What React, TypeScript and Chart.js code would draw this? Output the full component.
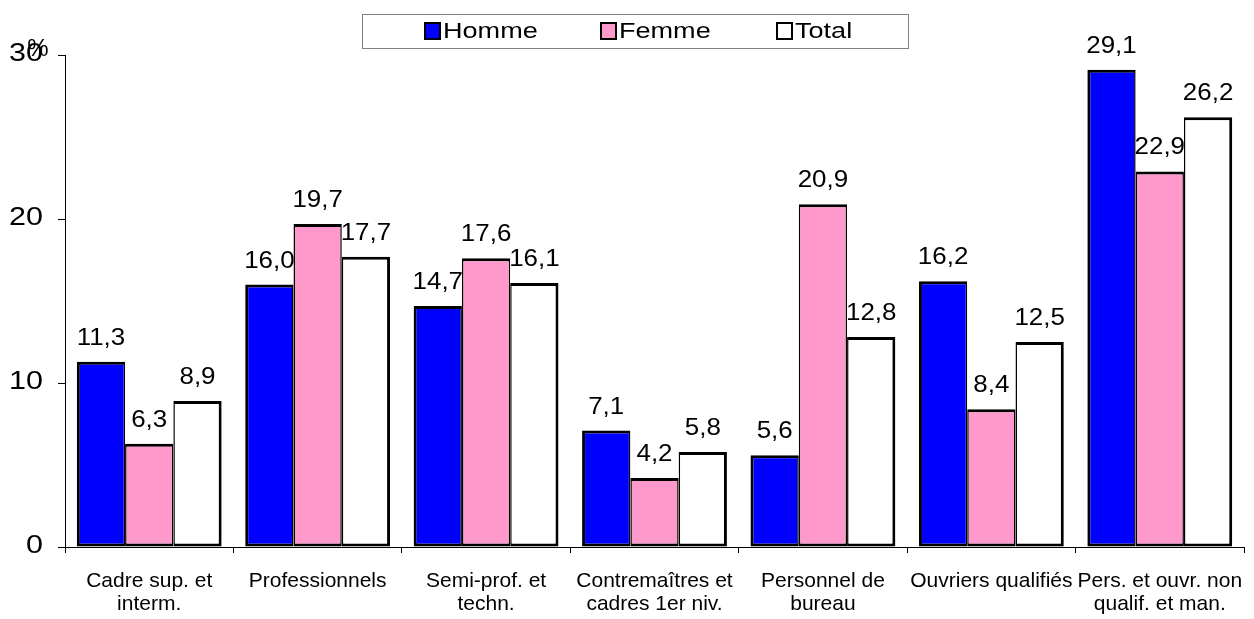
import React, { useEffect, useRef } from "react";
import { Chart, registerables } from "chart.js";

Chart.register(...registerables);

const categories: (string | string[])[] = [
  ["Cadre sup. et", "interm."],
  "Professionnels",
  ["Semi-prof. et", "techn."],
  ["Contremaîtres et", "cadres 1er niv."],
  ["Personnel de", "bureau"],
  "Ouvriers qualifiés",
  ["Pers. et ouvr. non", "qualif. et man."],
];

const homme = [11.3, 16.0, 14.7, 7.1, 5.6, 16.2, 29.1];
const femme = [6.3, 19.7, 17.6, 4.2, 20.9, 8.4, 22.9];
const total = [8.9, 17.7, 16.1, 5.8, 12.8, 12.5, 26.2];

const seriesNames = ["Homme", "Femme", "Total"];
const seriesColors = ["#0000FF", "#FF99CC", "#FFFFFF"];
const yTicks = [0, 10, 20, 30];
const unitLabel = "%";

const FONT = "Arial, 'Liberation Sans', sans-serif";

const fmt = (v: number) => v.toFixed(1).replace(".", ",");

function stretchedText(ctx: CanvasRenderingContext2D, text: string, x: number, y: number, sx: number) {
  ctx.save();
  ctx.translate(x, y);
  ctx.scale(sx, 1);
  ctx.fillText(text, 0, 0);
  ctx.restore();
}

const extrasPlugin = {
  id: "extras",
  afterDatasetsDraw(chart: any) {
    const ctx: CanvasRenderingContext2D = chart.ctx;
    ctx.save();
    ctx.fillStyle = "#000";
    // data labels
    ctx.font = `24px ${FONT}`;
    ctx.textAlign = "center";
    ctx.textBaseline = "alphabetic";
    chart.data.datasets.forEach((ds: any, di: number) => {
      const meta = chart.getDatasetMeta(di);
      meta.data.forEach((bar: any, i: number) => {
        stretchedText(ctx, fmt(ds.data[i]), bar.x, bar.y - 17, 1.08);
      });
    });
    // y tick labels
    const ys = chart.scales.y;
    ctx.font = `25px ${FONT}`;
    ctx.textAlign = "right";
    ctx.textBaseline = "middle";
    yTicks.forEach((v) => {
      stretchedText(ctx, String(v), 43, ys.getPixelForValue(v) - 1, 1.22);
    });
    // "%" unit
    ctx.font = `24px ${FONT}`;
    ctx.textAlign = "center";
    ctx.textBaseline = "alphabetic";
    ctx.fillText(unitLabel, 38, 56);
    // legend
    const lx = 362, ly = 14, lw = 546, lh = 34;
    ctx.strokeStyle = "#808080";
    ctx.lineWidth = 1;
    ctx.strokeRect(lx + 0.5, ly + 0.5, lw, lh);
    ctx.font = `22px ${FONT}`;
    ctx.textAlign = "left";
    ctx.textBaseline = "middle";
    seriesNames.forEach((name, i) => {
      const x = 425 + i * 176;
      const y = ly + lh / 2;
      ctx.fillStyle = seriesColors[i];
      ctx.fillRect(x, y - 8, 15, 16);
      ctx.strokeStyle = "#000";
      ctx.lineWidth = 2;
      ctx.strokeRect(x, y - 8, 15, 16);
      ctx.fillStyle = "#000";
      stretchedText(ctx, name, x + 18, y + 1, 1.23);
    });
    ctx.restore();
  },
};

export default function App() {
  const ref = useRef<HTMLCanvasElement | null>(null);
  useEffect(() => {
    document.body.style.margin = "0";
    const canvas = ref.current!;
    const sideWidths = [
      { top: 3, bottom: 3, left: 3, right: 1.5 },
      { top: 3, bottom: 3, left: 1.5, right: 1.5 },
      { top: 3, bottom: 3, left: 1.5, right: 3 },
    ];
    const chart = new Chart(canvas, {
      type: "bar",
      data: {
        labels: categories,
        datasets: [homme, femme, total].map((d, i) => ({
          label: seriesNames[i],
          data: d,
          backgroundColor: seriesColors[i],
          borderColor: "#000",
          borderWidth: sideWidths[i],
          borderSkipped: false,
          categoryPercentage: 0.86,
          barPercentage: 1,
        })),
      },
      options: {
        responsive: false,
        animation: false,
        devicePixelRatio: 1,
        layout: { padding: { top: 55, right: 10, left: 0, bottom: 0 } },
        plugins: {
          legend: { display: false },
          tooltip: { enabled: false },
        },
        scales: {
          x: {
            afterFit: (s: any) => {
              s.height = 72;
              s.paddingLeft = 0;
              s.paddingRight = 0;
            },
            grid: {
              drawOnChartArea: false,
              drawTicks: true,
              tickLength: 6,
              color: "#000",
              offset: true,
            },
            border: { display: true, color: "#000", width: 1 },
            ticks: {
              color: "#000",
              font: { family: FONT, size: 21, lineHeight: 1.1 },
              padding: 17,
              maxRotation: 0,
              autoSkip: false,
            },
          },
          y: {
            min: 0,
            max: 30,
            afterFit: (s: any) => {
              s.width = 65;
              s.paddingTop = 0;
              s.paddingBottom = 0;
            },
            afterBuildTicks: (s: any) => {
              s.ticks = yTicks.map((v) => ({ value: v }));
            },
            grid: {
              drawOnChartArea: false,
              drawTicks: true,
              tickLength: 7,
              color: "#000",
            },
            border: { display: true, color: "#000", width: 1 },
            ticks: {
              color: "rgba(0,0,0,0)",
              font: { family: FONT, size: 24 },
              padding: 16,
              callback: (v: any) => String(v),
            },
          },
        },
      },
      plugins: [extrasPlugin],
    });
    return () => chart.destroy();
  }, []);
  return <canvas ref={ref} width={1254} height={619} style={{ display: "block" }} />;
}
